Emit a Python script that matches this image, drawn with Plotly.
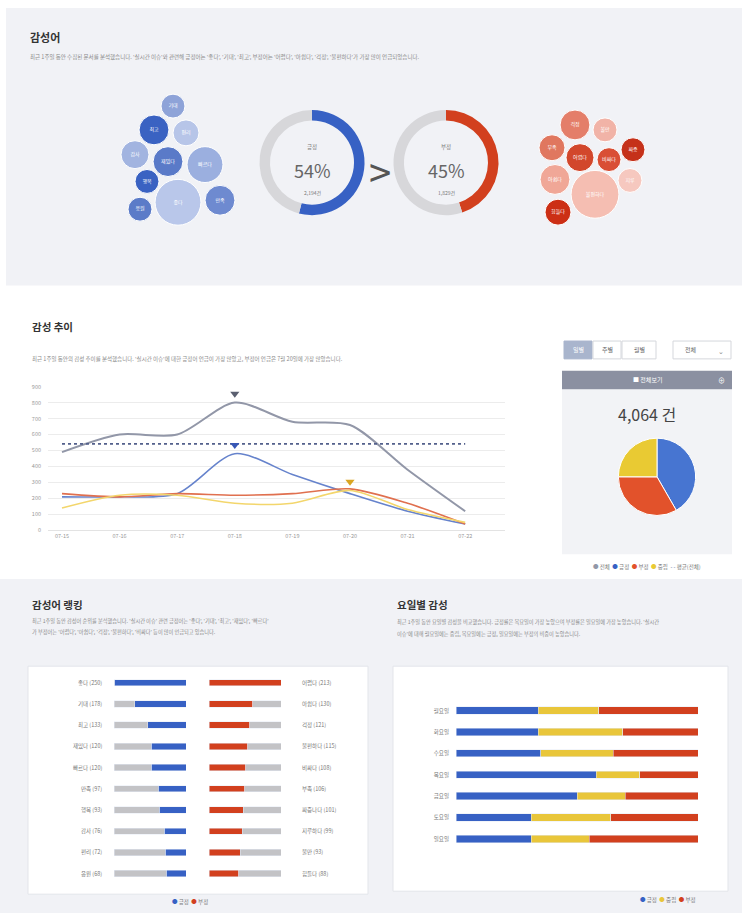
import math
import plotly.graph_objects as go

W, H = 742, 917
FONT = "Noto Sans CJK KR"


def X(px):
    return px / W


def Y(py):
    return 1 - py / H


# ---------------- data ----------------
# bubble words (감성어)
pos_words = ["기대", "최고", "편리", "감사", "재밌다", "빠르다", "행복", "좋다", "만족", "응원"]
pos_counts = [68, 106, 80, 93, 106, 153, 68, 250, 106, 68]
neg_words = ["걱정", "불만", "부족", "어렵다", "비싸다", "짜증", "아쉽다", "불편하다", "지루", "힘들다"]
neg_counts = [106, 68, 80, 93, 68, 68, 106, 272, 68, 80]
pos_pct = 54
neg_pct = 45
pos_total_label = "2,194건"
neg_total_label = "1,829건"

# 감성 추이
dates = ["07-15", "07-16", "07-17", "07-18", "07-19", "07-20", "07-21", "07-22"]
total = [490, 600, 600, 800, 680, 660, 380, 120]
positive = [210, 210, 230, 480, 350, 230, 120, 40]
negative = [230, 210, 230, 220, 230, 260, 170, 40]
neutral = [140, 220, 220, 170, 170, 250, 130, 50]
y_ticks = [0, 100, 200, 300, 400, 500, 600, 700, 800, 900]

# pie
pie_labels = ["긍정", "부정", "중립"]
pie_values = [1694, 1355, 1015]

# 감성어 랭킹
rank_pos_words = ["좋다", "기대", "최고", "재밌다", "빠르다", "만족", "행복", "감사", "편리", "응원"]
rank_pos_counts = [250, 178, 133, 120, 120, 97, 93, 76, 72, 68]
rank_neg_words = ["어렵다", "아쉽다", "걱정", "불편하다", "비싸다", "부족", "짜증나다", "지루하다", "불만", "힘들다"]
rank_neg_counts = [213, 130, 121, 115, 108, 106, 101, 99, 93, 88]

# 요일별 감성 (%)
days = ["월요일", "화요일", "수요일", "목요일", "금요일", "토요일", "일요일"]
day_pos = [34, 34, 35, 58, 50, 31, 31]
day_neu = [25, 35, 30, 18, 20, 33, 24]
day_neg = [41, 31, 35, 24, 30, 36, 45]

# ---------------- styles / layout positions ----------------
BLUE = "#3761c4"
RED = "#d2401e"
YEL = "#e9c63a"
GRAY_BAR = "#c3c3c6"
BG = "#f1f2f6"

pos_bubble_xy = [(173, 103), (154, 127), (186, 130), (135, 152), (168, 159),
                 (205, 162), (147, 179), (178, 200), (220, 198), (140, 207)]
pos_bubble_colors = ["#8ea3d8", "#3a62c2", "#b7c5e8", "#a2b4e0", "#5a7ac8",
                     "#9bafdf", "#3a62c2", "#b9c7ea", "#6e8ad0", "#5b7bc8"]
neg_bubble_xy = [(575, 122), (605, 127), (552, 145), (580, 155), (609, 157),
                 (633, 147), (555, 177), (595, 192), (630, 178), (558, 210)]
neg_bubble_colors = ["#e47e69", "#f1b3a7", "#e0775f", "#d2472c", "#d94f35",
                     "#c5311a", "#f0a797", "#f5beb2", "#f6c8bf", "#cc2f15"]

fig = go.Figure()

# ---- bubbles (pixel overlay axes) ----
def bubble_trace(xy, counts, words, colors):
    return go.Scatter(
        x=[p[0] for p in xy], y=[p[1] for p in xy],
        mode="markers+text", text=words,
        textfont=dict(size=5, color="white", family=FONT),
        marker=dict(size=[2.9 * math.sqrt(c) for c in counts], color=colors,
                    line=dict(color="white", width=1), opacity=1),
        xaxis="x5", yaxis="y5", hoverinfo="skip", showlegend=False)


fig.add_trace(bubble_trace(pos_bubble_xy, pos_counts, pos_words, pos_bubble_colors))
fig.add_trace(bubble_trace(neg_bubble_xy, neg_counts, neg_words, neg_bubble_colors))

# ---- donuts ----
fig.add_trace(go.Pie(values=[pos_pct, 100 - pos_pct], hole=0.8, sort=False,
                     direction="clockwise", marker=dict(colors=[BLUE, "#d7d7da"]),
                     textinfo="none", hoverinfo="skip", showlegend=False,
                     domain=dict(x=[X(259), X(365)], y=[Y(213), Y(107)])))
fig.add_trace(go.Pie(values=[neg_pct, 100 - neg_pct], hole=0.8, sort=False,
                     direction="clockwise", marker=dict(colors=[RED, "#d7d7da"]),
                     textinfo="none", hoverinfo="skip", showlegend=False,
                     domain=dict(x=[X(393), X(499)], y=[Y(213), Y(107)])))

# ---- line chart ----
avg = sum(total) / len(total)
line_specs = [
    ("전체", total, "#9297a8", 2),
    ("긍정", positive, "#6683cc", 1.6),
    ("부정", negative, "#e0704f", 1.6),
    ("중립", neutral, "#f3d66c", 1.6),
]
for name, vals, col, wdt in line_specs:
    fig.add_trace(go.Scatter(x=dates, y=vals, mode="lines", name=name,
                             line=dict(color=col, width=wdt, shape="spline", smoothing=0.8),
                             xaxis="x", yaxis="y", showlegend=False))
fig.add_trace(go.Scatter(x=dates, y=[avg] * len(dates), mode="lines", name="평균(전체)",
                         line=dict(color="#53608c", width=1.6, dash="dot"),
                         xaxis="x", yaxis="y", showlegend=False))
# peak pins
for vals, col in [(total, "#5a5f70"), (positive, "#3757b5"), (neutral, "#d9a521")]:
    i = vals.index(max(vals))
    fig.add_trace(go.Scatter(x=[dates[i]], y=[vals[i] + 55], mode="markers",
                             marker=dict(symbol="triangle-down", size=8, color=col),
                             xaxis="x", yaxis="y", showlegend=False, hoverinfo="skip"))

# ---- right pie ----
fig.add_trace(go.Pie(labels=pie_labels, values=pie_values, sort=False, direction="clockwise",
                     marker=dict(colors=["#4775d1", "#e2522b", "#e9ca33"],
                                 line=dict(color="white", width=1)),
                     textinfo="none", showlegend=False,
                     domain=dict(x=[X(618), X(696)], y=[Y(516), Y(438)])))

# ---- ranking bars ----
pmax = max(rank_pos_counts)
nmax = max(rank_neg_counts)
rank_rows = [str(i) for i in range(len(rank_pos_counts))]
fig.add_trace(go.Bar(y=rank_rows, x=rank_pos_counts, orientation="h", width=0.3,
                     marker=dict(color=BLUE), xaxis="x2", yaxis="y2", showlegend=False))
fig.add_trace(go.Bar(y=rank_rows, x=[pmax - c for c in rank_pos_counts], orientation="h",
                     width=0.3, marker=dict(color=GRAY_BAR), xaxis="x2", yaxis="y2",
                     showlegend=False))
fig.add_trace(go.Bar(y=rank_rows, x=rank_neg_counts, orientation="h", width=0.3,
                     marker=dict(color=RED), xaxis="x3", yaxis="y2", showlegend=False))
fig.add_trace(go.Bar(y=rank_rows, x=[nmax - c for c in rank_neg_counts], orientation="h",
                     width=0.3, marker=dict(color=GRAY_BAR), xaxis="x3", yaxis="y2",
                     showlegend=False))

# ---- weekday stacked bars ----
for vals, col, nm in [(day_pos, BLUE, "긍정"), (day_neu, YEL, "중립"), (day_neg, RED, "부정")]:
    fig.add_trace(go.Bar(y=days, x=vals, orientation="h", width=0.34, name=nm,
                         marker=dict(color=col), xaxis="x4", yaxis="y4", showlegend=False))

# ---------------- shapes ----------------
shapes = []


def rect(x0, y0, x1, y1, fill, line=None, layer="below"):
    shapes.append(dict(type="rect", xref="paper", yref="paper",
                       x0=X(x0), x1=X(x1), y0=Y(y1), y1=Y(y0),
                       fillcolor=fill, layer=layer,
                       line=dict(color=line or fill, width=1 if line else 0)))


rect(6, 4, 742, 284, BG)
rect(0, 580, 742, 917, BG)
rect(28, 668, 368, 898, "white", "#e3e5ea")
rect(393, 668, 728, 895, "white", "#e3e5ea")
# right side panel
rect(562, 370, 732, 389, "#8b90a1")
rect(562, 389, 732, 555, "#f2f3f6")
# buttons
rect(564, 340, 592, 358, "#a9b5cd", "#a9b5cd")
rect(593, 340, 621, 358, "white", "#d5d7dc")
rect(622, 340, 656, 358, "white", "#d5d7dc")
rect(673, 340, 731, 358, "white", "#d5d7dc")

# ---------------- annotations ----------------
ann = []


def text(x, y, s, size=6, color="#888", xanchor="left", yanchor="middle", bold=False):
    ann.append(dict(x=X(x), y=Y(y), xref="paper", yref="paper", showarrow=False,
                    text=(f"<b>{s}</b>" if bold else s), xanchor=xanchor, yanchor=yanchor,
                    font=dict(size=size, color=color, family=FONT)))


SUB = "#8a8a8a"
text(28, 33, "감성어", 11, "#333", bold=True)
text(28, 53, "최근 1주일 동안 수집된 문서를 분석했습니다. '실시간 이슈'와 관련해 긍정어는 '좋다', '기대', '최고', 부정어는 '어렵다', '아쉽다', '걱정', '불편하다'가 가장 많이 언급되었습니다.", 5.5, SUB)
# donut labels
text(312, 144, "긍정", 5.5, "#777", "center")
text(312, 167, f"{pos_pct}%", 18, "#666", "center")
text(312, 190, pos_total_label, 5, "#777", "center")
text(446, 144, "부정", 5.5, "#777", "center")
text(446, 167, f"{neg_pct}%", 18, "#666", "center")
text(446, 190, neg_total_label, 5, "#777", "center")
text(380, 168, ">", 40, "#555", "center")

text(30, 325, "감성 추이", 10.5, "#333", bold=True)
text(30, 358, "최근 1주일 동안의 감성 추이를 분석했습니다. '실시간 이슈'에 대한 긍정어 언급이 가장 많았고, 부정어 언급은 7월 20일에 가장 많았습니다.", 5.5, SUB)

# right panel
text(578, 349, "일별", 6, "white", "center")
text(607, 349, "주별", 6, "#666", "center")
text(639, 349, "월별", 6, "#666", "center")
text(683, 349, "전체", 6, "#666", "left")
text(726, 350, "⌄", 7, "#888", "right")
text(647, 379, "■ 전체보기", 6, "white", "center")
text(727, 379, "⊕", 7, "white", "right")
text(647, 414, f"{sum(pie_values):,} 건", 16, "#444", "center")
text(647, 568,
     "<span style='color:#9297a8'>●</span> 전체  <span style='color:#3761c4'>●</span> 긍정  "
     "<span style='color:#e2522b'>●</span> 부정  <span style='color:#e9ca33'>●</span> 중립  "
     "<span style='color:#53608c'>- -</span> 평균(전체)", 5.5, "#777", "center")

text(30, 606, "감성어 랭킹", 10.5, "#333", bold=True)
text(30, 622, "최근 1주일 동안 감성어 순위를 분석했습니다. '실시간 이슈' 관련 긍정어는 '좋다', '기대', '최고', '재밌다', '빠르다'", 5.2, SUB)
text(30, 634, "가 부정어는 '어렵다', '아쉽다', '걱정', '불편하다', '비싸다' 등이 많이 언급되고 있습니다.", 5.2, SUB)
text(395, 606, "요일별 감성", 10.5, "#333", bold=True)
text(395, 623, "최근 1주일 동안 요일별 감성을 비교했습니다. 긍정률은 목요일이 가장 높았으며 부정률은 일요일에 가장 높았습니다. '실시간", 5.2, SUB)
text(395, 636, "이슈'에 대해 월요일에는 중립, 목요일에는 긍정, 일요일에는 부정의 비중이 높았습니다.", 5.2, SUB)

# ranking labels
for r, w, c in zip(rank_rows, rank_pos_words, rank_pos_counts):
    ann.append(dict(x=X(104), xref="paper", y=r, yref="y2", showarrow=False,
                    text=f"{w} ({c})", xanchor="right",
                    font=dict(size=5.5, color="#777", family=FONT)))
for r, w, c in zip(rank_rows, rank_neg_words, rank_neg_counts):
    ann.append(dict(x=X(300), xref="paper", y=r, yref="y2", showarrow=False,
                    text=f"{w} ({c})", xanchor="left",
                    font=dict(size=5.5, color="#777", family=FONT)))

text(190, 906, f"<span style='color:{BLUE}'>●</span> 긍정  <span style='color:{RED}'>●</span> 부정", 5.5, "#777", "center")
text(668, 904, f"<span style='color:{BLUE}'>●</span> 긍정  <span style='color:{YEL}'>●</span> 중립  <span style='color:{RED}'>●</span> 부정", 5.5, "#777", "center")

# ---------------- axes ----------------
step = 57.6
x0px, x1px = 48, 505
first_pt = 62
fig.update_layout(
    width=W, height=H, margin=dict(l=0, r=0, t=0, b=0),
    paper_bgcolor="white", plot_bgcolor="rgba(0,0,0,0)",
    font=dict(family=FONT), barmode="stack", showlegend=False,
    shapes=shapes, annotations=ann,
    xaxis=dict(domain=[X(x0px), X(x1px)], anchor="y", type="category",
               range=[-(first_pt - x0px) / step, (x1px - first_pt) / step],
               showgrid=False, showline=True, linecolor="#e3e3e3", ticks="",
               tickfont=dict(size=5.5, color="#999"), fixedrange=True),
    yaxis=dict(domain=[Y(531), Y(386)], anchor="x", range=[0, 900], tickvals=y_ticks,
               showgrid=True, gridcolor="#ececec", gridwidth=1, zeroline=False,
               tickfont=dict(size=5.5, color="#999"), ticklabelstandoff=6, fixedrange=True),
    xaxis2=dict(domain=[X(114), X(186)], anchor="y2", range=[pmax, 0], visible=False),
    xaxis3=dict(domain=[X(209), X(281)], anchor="y2", range=[0, nmax], visible=False),
    yaxis2=dict(domain=[Y(888), Y(674)], anchor="x2", type="category",
                categoryorder="array", categoryarray=rank_rows,
                range=[len(rank_rows) - 0.5, -0.5], visible=False),
    xaxis4=dict(domain=[X(456), X(698)], anchor="y4", range=[0, 100], visible=False),
    yaxis4=dict(domain=[Y(853), Y(702)], anchor="x4", type="category",
                categoryorder="array", categoryarray=days,
                range=[len(days) - 0.5, -0.5], showgrid=False, zeroline=False,
                showline=False, ticks="", ticklabelstandoff=6,
                tickfont=dict(size=5.5, color="#777")),
    xaxis5=dict(domain=[0, 1], anchor="y5", range=[0, W], visible=False),
    yaxis5=dict(domain=[0, 1], anchor="x5", range=[H, 0], visible=False),
)

fig.write_html("out.html", config={"displayModeBar": False},
               post_script="document.body.style.margin='0';")
